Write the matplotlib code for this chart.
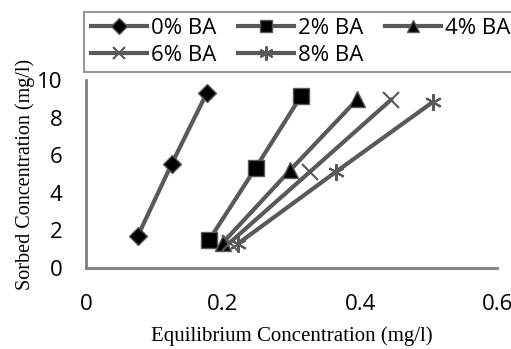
import matplotlib
matplotlib.use("Agg")
import matplotlib.pyplot as plt

series_names = ["0% BA", "2% BA", "4% BA", "6% BA", "8% BA"]
x_0 = [0.076, 0.125, 0.176]
y_0 = [1.72, 5.52, 9.28]
x_2 = [0.180, 0.248, 0.314]
y_2 = [1.50, 5.34, 9.15]
x_4 = [0.200, 0.298, 0.396]
y_4 = [1.35, 5.20, 8.97]
x_6 = [0.210, 0.327, 0.445]
y_6 = [1.35, 5.12, 8.94]
x_8 = [0.222, 0.365, 0.507]
y_8 = [1.30, 5.12, 8.85]
x_ticks = [0, 0.2, 0.4, 0.6]
x_ticklabels = ["0", "0.2", "0.4", "0.6"]
y_ticks = [0, 2, 4, 6, 8, 10]

line_color = "#595959"
fig = plt.figure(figsize=(5.11, 3.49), dpi=100)
ax = fig.add_axes([0.168, 0.232, 0.805, 0.539])

styles = [
    dict(marker="D", ms=9, mfc="black", mec=line_color, mew=1),
    dict(marker="s", ms=11, mfc="black", mec=line_color, mew=1),
    dict(marker="^", ms=11, mfc="black", mec=line_color, mew=1),
    dict(marker="x", ms=11, mfc=line_color, mec=line_color, mew=1.5),
    dict(marker=(6, 2, 0), ms=12, mfc=line_color, mec=line_color, mew=1.5),
]
data = [(x_0, y_0), (x_2, y_2), (x_4, y_4), (x_6, y_6), (x_8, y_8)]
handles = []
for (xs, ys), name, st in zip(data, series_names, styles):
    h, = ax.plot(xs, ys, color=line_color, lw=3, label=name, clip_on=False, **st)
    handles.append(h)

ax.set_xlim(0, 0.6)
ax.set_ylim(0, 10)
ax.set_xticks(x_ticks)
ax.set_xticklabels(x_ticklabels)
ax.set_yticks(y_ticks)
for s in ["top", "right"]:
    ax.spines[s].set_visible(False)
for s in ["left", "bottom"]:
    ax.spines[s].set_color("#808080")
    ax.spines[s].set_linewidth(2)
ax.tick_params(length=0, labelsize=16)
for lab in ax.get_xticklabels() + ax.get_yticklabels():
    lab.set_family("Open Sans")
ax.tick_params(axis="y", pad=17)
ax.tick_params(axis="x", pad=19)

ax.set_xlabel("Equilibrium Concentration (mg/l)", family="Liberation Serif", fontsize=15, labelpad=8)
ax.set_ylabel("Sorbed Concentration (mg/l)", family="Liberation Serif", fontsize=14.5, labelpad=1)

order = [0, 3, 1, 4, 2]
leg = fig.legend(handles=[handles[i] for i in order],
                 labels=[series_names[i] for i in order],
                 loc="upper left", bbox_to_anchor=(0.165, 0.967),
                 ncol=3, frameon=True, fancybox=False, handlelength=2.5,
                 columnspacing=1.0, handletextpad=0.18, borderpad=0.3, labelspacing=0.25,
                 borderaxespad=0, markerscale=0.85, prop={"family": "Open Sans", "size": 16})
leg.get_frame().set_edgecolor("#808080")
leg.get_frame().set_linewidth(1.5)

fig.savefig("out.png", dpi=100)
